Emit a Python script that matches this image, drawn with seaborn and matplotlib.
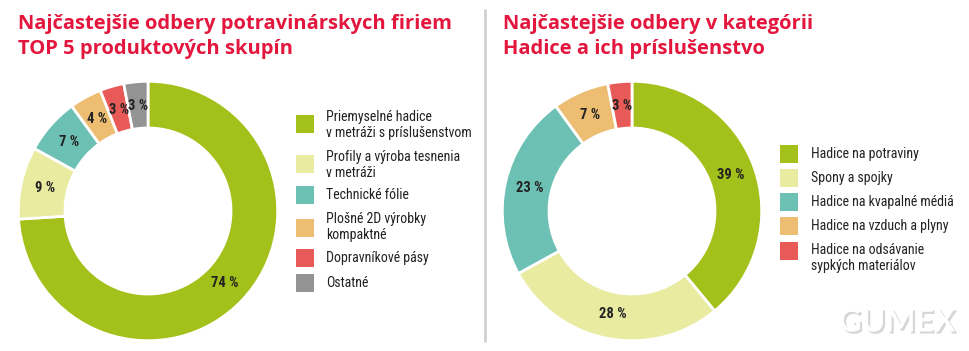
import matplotlib
matplotlib.use("Agg")
import matplotlib.pyplot as plt
import matplotlib.patheffects as pe
from matplotlib.patches import Rectangle
import seaborn as sns

sns.set_theme(style="white")
plt.rcParams['font.family'] = ['Roboto', 'DejaVu Sans']

# ---- data ----
left_title = ["Najčastejšie odbery potravinárskych firiem", "TOP 5 produktových skupín"]
left_labels = ["Priemyselné hadice\nv metráži s príslušenstvom",
               "Profily a výroba tesnenia\nv metráži",
               "Technické fólie",
               "Plošné 2D výrobky\nkompaktné",
               "Dopravníkové pásy",
               "Ostatné"]
left_values = [74, 9, 7, 4, 3, 3]

right_title = ["Najčastejšie odbery v kategórii", "Hadice a ich príslušenstvo"]
right_labels = ["Hadice na potraviny",
                "Spony a spojky",
                "Hadice na kvapalné médiá",
                "Hadice na vzduch a plyny",
                "Hadice na odsávanie\nsypkých materiálov"]
right_values = [39, 28, 23, 7, 3]

palette = ["#A3C11A", "#E8EBA0", "#6CC0B4", "#EDBE72", "#E85A58", "#939393"]
title_color = "#E3173E"

W, H = 970, 351
fig = plt.figure(figsize=(W / 100, H / 100), dpi=100)
fig.patch.set_facecolor("white")

def px_axes(cx, cy, r):
    return fig.add_axes([(cx - r) / W, (H - cy - r) / H, 2 * r / W, 2 * r / H])

def donut(ax, values, colors):
    wedges, texts, autotexts = ax.pie(
        values, colors=colors, startangle=90, counterclock=False,
        radius=1.0, pctdistance=0.81,
        autopct=lambda p: f"{p:.0f} %",
        wedgeprops=dict(width=0.36, edgecolor="white", linewidth=2),
        textprops=dict(fontsize=10.5, fontweight="bold", color="#222222",
                       family=["Roboto Condensed", "Roboto", "DejaVu Sans"]))
    ax.set_xlim(-1.01, 1.01)
    ax.set_ylim(-1.01, 1.01)
    ax.set_aspect("equal")
    ax.axis("off")

axL = px_axes(148, 211, 131)
donut(axL, left_values, palette[:len(left_values)])
axR = px_axes(632, 211, 131)
donut(axR, right_values, palette[:len(right_values)])

# titles
tfam = ["Open Sans", "DejaVu Sans"]
for i, line in enumerate(left_title):
    fig.text(18 / W, 1 - (24 + 25 * i) / H, line, color=title_color, fontsize=14.5,
             fontweight="bold", va="center", ha="left", family=tfam)
for i, line in enumerate(right_title):
    fig.text(503 / W, 1 - (24 + 25 * i) / H, line, color=title_color, fontsize=14.5,
             fontweight="bold", va="center", ha="left", family=tfam)

# divider
fig.add_artist(plt.Line2D([485 / W, 485 / W], [1 - 10 / H, 1 - 341 / H],
                          color="#D0D0D0", linewidth=2))

# legends
def legend(x_sw, x_txt, ys, tys, labels, colors):
    for y, ty, lab, c in zip(ys, tys, labels, colors):
        fig.add_artist(Rectangle(((x_sw) / W, 1 - (y + 9) / H), 18 / W, 18 / H,
                                 facecolor=c, edgecolor="none",
                                 transform=fig.transFigure))
        fig.text(x_txt / W, 1 - ty / H, lab, fontsize=10, color="#222222",
                 va="center", ha="left", linespacing=1.2,
                 family=["Roboto Condensed", "Roboto", "DejaVu Sans"])

legend(296, 326, [124, 164, 195, 228, 258, 283], [125, 165, 195, 227, 258, 283],
       left_labels, palette)
legend(780, 811, [154, 178, 202, 226, 251], [154, 178, 202, 226, 258],
       right_labels, palette)

# logo
fig.text(897 / W, 1 - 322 / H, "GUMEX", fontsize=23, fontweight="bold", color="white",
         ha="center", va="center", family=["Lato", "DejaVu Sans"],
         path_effects=[pe.withSimplePatchShadow(offset=(1.5, -1.5), shadow_rgbFace="#999999", alpha=0.4)])

fig.savefig("out.png", dpi=100, facecolor="white")
